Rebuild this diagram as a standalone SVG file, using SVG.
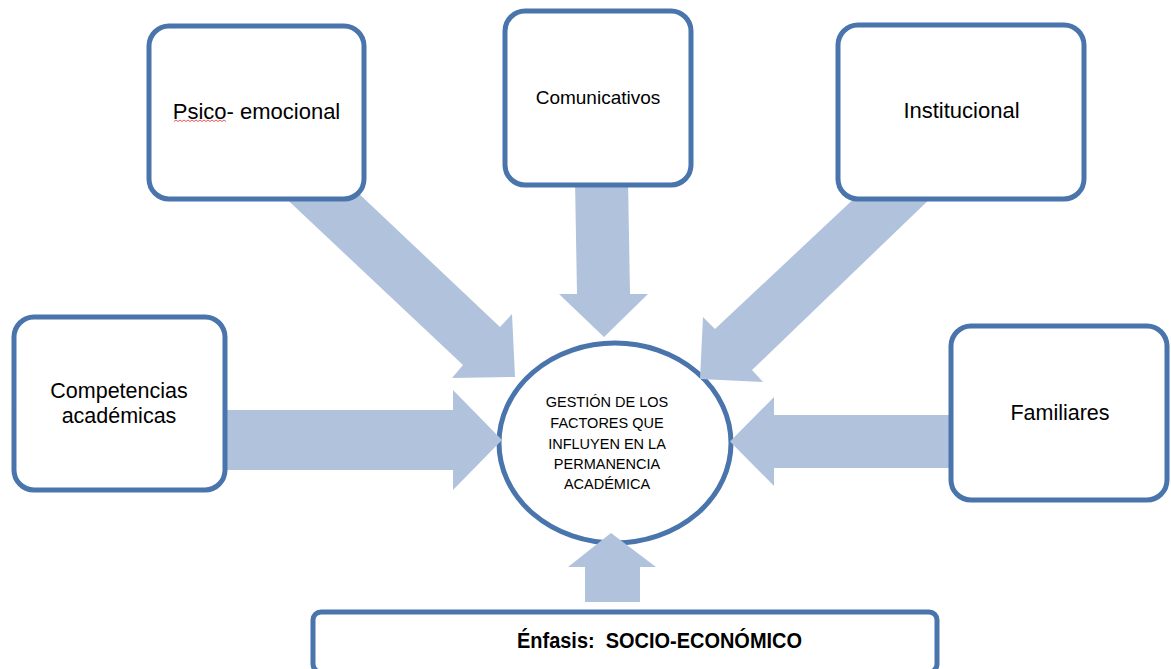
<svg xmlns="http://www.w3.org/2000/svg" width="1171" height="669" viewBox="0 0 1171 669">
<style>
.box{fill:#ffffff;stroke:#4A75AC;stroke-width:5}
.arrow{fill:#B1C2DD;stroke:none}
.lbl{font-family:"Liberation Sans",Arial,sans-serif;fill:#000000;text-anchor:middle}
.ctr{font-family:"Liberation Sans",Arial,sans-serif;fill:#000000;text-anchor:middle;font-size:14.5px}
</style>
<rect x="0" y="0" width="1171" height="669" fill="#ffffff"/>
<g id="center">
<ellipse cx="615" cy="443" rx="116" ry="100" class="box"/>
<text class="ctr" x="607" y="407">GESTIÓN DE LOS</text>
<text class="ctr" x="607" y="428">FACTORES QUE</text>
<text class="ctr" x="607" y="448.5">INFLUYEN EN LA</text>
<text class="ctr" x="607" y="469">PERMANENCIA</text>
<text class="ctr" x="607" y="489">ACADÉMICA</text>
</g>
<g id="connectors">
<polygon class="arrow" points="355,190 500,327 512,314 515,377 452,378 463,365 277,190"/>
<polygon class="arrow" points="575,180 628,180 630,294 648,294 604,337 559,294 577,294"/>
<polygon class="arrow" points="860,193 936,193 752,370 763,382 700,379 703,317 715,329"/>
<polygon class="arrow" points="220,410 453,410 453,390 502,440 453,490 453,470 220,470"/>
<polygon class="arrow" points="956,415 774,415 774,397 730,441.5 774,486 774,468 956,468"/>
<polygon class="arrow" points="585,602 585,567 568,567 611,533 656,567 640,567 640,602"/>
</g>
<g id="psico">
<rect x="149" y="26" width="215" height="173" rx="20" ry="20" class="box"/>
<text class="lbl" x="256.5" y="119" font-size="22">Psico- emocional</text>
<path d="M174,121.5 l2,-1.5 l2,1.5 l2,-1.5 l2,1.5 l2,-1.5 l2,1.5 l2,-1.5 l2,1.5 l2,-1.5 l2,1.5 l2,-1.5 l2,1.5 l2,-1.5 l2,1.5 l2,-1.5 l2,1.5 l2,-1.5 l2,1.5 l2,-1.5 l2,1.5 l2,-1.5 l2,1.5 l2,-1.5 l2,1.5 l2,-1.5 l2,1.5" fill="none" stroke="#E03030" stroke-width="0.8"/>
</g>
<g id="comunicativos">
<rect x="505" y="11" width="186" height="174" rx="20" ry="20" class="box"/>
<text class="lbl" x="598" y="104" font-size="19">Comunicativos</text>
</g>
<g id="institucional">
<rect x="838" y="25" width="246" height="174" rx="20" ry="20" class="box"/>
<text class="lbl" x="961.5" y="118" font-size="22">Institucional</text>
</g>
<g id="competencias">
<rect x="14" y="317" width="211" height="173" rx="20" ry="20" class="box"/>
<text class="lbl" x="119" y="398" font-size="21.5">Competencias</text>
<text class="lbl" x="119" y="423" font-size="21.5">académicas</text>
</g>
<g id="familiares">
<rect x="951" y="326" width="216" height="174" rx="20" ry="20" class="box"/>
<text class="lbl" x="1060" y="420" font-size="21.5">Familiares</text>
</g>
<g id="enfasis">
<rect x="313" y="612" width="624" height="60" rx="8" ry="8" class="box"/>
<text class="lbl" x="659.5" y="648" font-size="22" font-weight="bold" textLength="285" lengthAdjust="spacingAndGlyphs" xml:space="preserve">Énfasis:  SOCIO-ECONÓMICO</text>
</g>
</svg>
